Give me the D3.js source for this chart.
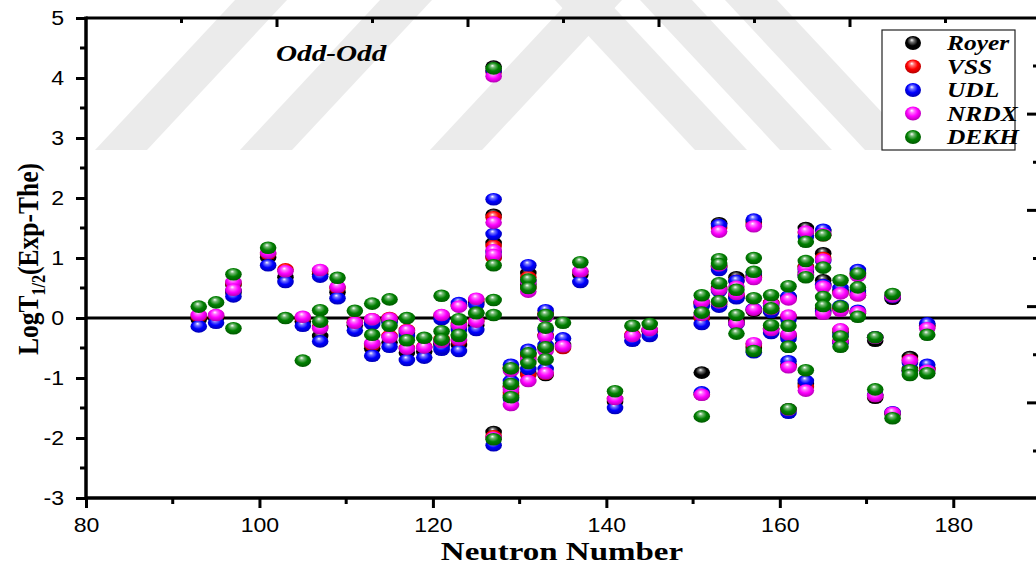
<!DOCTYPE html>
<html>
<head>
<meta charset="utf-8">
<script src="https://cdn.jsdelivr.net/npm/d3@7"></script>
<style>
  html, body { margin: 0; padding: 0; background: #fff; }
  svg { display: block; }
</style>
</head>
<body>
<svg id="chart" width="1036" height="564"></svg>
<script>
// Odd-odd nuclei: log10 half-life deviations (experiment minus theory)
// for five alpha-decay formulas, one entry per nucleus.
const neutron = [93, 95, 97, 97, 101, 103, 105, 107, 107, 109, 111, 113, 113, 115, 115, 117, 117, 119,
  121, 121, 121, 123, 123, 123, 125, 125, 127, 127, 127, 127, 127, 129, 129, 129,
  131, 131, 131, 131, 133, 133, 133, 133, 135, 137, 141, 143, 145,
  151, 151, 151, 153, 153, 153, 153, 155, 155, 155, 157, 157, 157, 157, 159, 159, 159,
  161, 161, 161, 161, 161, 163, 163, 163, 163, 165, 165, 165, 165, 167, 167, 167, 167,
  169, 169, 169, 171, 171, 173, 173, 175, 175, 177, 177];

const royer = [-0.02, 0.00, 0.55, 0.42, 1.01, 0.68, -0.06, 0.73, -0.30, 0.43, -0.12, -0.05, -0.51, -0.05, -0.41, -0.25, -0.58, -0.56,
  0.00, -0.45, -0.42, 0.20, -0.15, -0.45, 0.25, -0.12, 4.19, 1.72, 1.25, 1.02, -1.90, -0.85, -1.15, -1.30,
  0.75, 0.55, -0.60, -0.92, 0.05, -0.30, -0.50, -0.95, -0.45, 0.72, -1.40, -0.30, -0.22,
  0.25, 0.00, -0.91, 1.58, 0.85, 0.50, 0.22, 0.68, 0.35, -0.05, 1.60, 0.70, 0.12, -0.50, 0.25, 0.12, -0.18,
  0.35, 0.00, -0.30, -0.78, -1.52, 1.50, 0.85, 0.75, -1.10, 1.45, 1.08, 0.63, 0.15, 0.45, 0.15, -0.25, -0.40,
  0.75, 0.40, 0.08, -0.38, -1.33, 0.32, -1.60, -0.65, -0.85, -0.12, -0.85];

const vss = [0.03, 0.04, 0.58, 0.45, 1.07, 0.81, 0.00, 0.78, -0.15, 0.50, -0.07, -0.02, -0.45, 0.00, -0.30, -0.20, -0.50, -0.48,
  0.04, -0.38, -0.35, 0.22, -0.10, -0.38, 0.30, -0.05, 4.10, 1.68, 1.20, 1.00, -1.97, -0.82, -1.15, -1.25,
  0.68, 0.50, -0.65, -0.95, 0.08, -0.28, -0.50, -0.93, -0.50, 0.77, -1.35, -0.28, -0.20,
  0.25, 0.00, -1.27, 1.50, 0.85, 0.48, 0.25, 0.62, 0.38, -0.08, 1.55, 0.68, 0.14, -0.45, 0.25, 0.15, -0.18,
  0.33, 0.03, -0.28, -0.80, -1.53, 1.42, 0.85, 0.72, -1.15, 1.38, 1.00, 0.55, 0.12, 0.42, 0.15, -0.20, -0.38,
  0.72, 0.38, 0.10, -0.32, -1.30, 0.36, -1.58, -0.70, -0.88, -0.14, -0.85];

const udl = [-0.14, -0.08, 0.45, 0.36, 0.88, 0.60, -0.13, 0.69, -0.39, 0.33, -0.21, -0.10, -0.63, -0.08, -0.48, -0.30, -0.70, -0.66,
  -0.02, -0.53, -0.50, 0.25, -0.20, -0.55, 0.22, -0.20, 4.12, 1.98, 1.40, 1.10, -2.12, -0.78, -1.05, -1.35,
  0.88, 0.62, -0.53, -0.85, 0.13, -0.20, -0.45, -0.85, -0.34, 0.60, -1.50, -0.38, -0.30,
  0.20, -0.10, -1.24, 1.55, 0.80, 0.45, 0.19, 0.62, 0.33, -0.10, 1.64, 0.75, 0.15, -0.57, 0.20, 0.10, -0.25,
  0.36, -0.03, -0.35, -0.72, -1.58, 1.35, 0.80, 0.70, -1.05, 1.47, 0.95, 0.55, 0.10, 0.50, 0.20, -0.30, -0.42,
  0.80, 0.45, 0.12, -0.32, -1.28, 0.35, -1.57, -0.75, -0.90, -0.09, -0.78];

const nrdx = [0.05, 0.05, 0.60, 0.47, 1.09, 0.78, 0.02, 0.80, -0.17, 0.52, -0.08, -0.02, -0.42, -0.01, -0.32, -0.21, -0.51, -0.49,
  0.05, -0.40, -0.38, 0.19, -0.12, -0.36, 0.32, -0.06, 4.03, 1.59, 1.13, 1.05, -2.00, -0.88, -1.20, -1.45,
  0.60, 0.44, -0.70, -1.05, 0.02, -0.31, -0.55, -0.92, -0.47, 0.78, -1.35, -0.30, -0.20,
  0.27, 0.05, -1.28, 1.44, 0.88, 0.47, 0.26, 0.52, 0.40, -0.09, 1.53, 0.65, 0.14, -0.42, 0.24, 0.15, -0.20,
  0.31, 0.04, -0.27, -0.82, -1.53, 1.44, 0.82, 0.72, -1.21, 1.40, 0.97, 0.52, 0.07, 0.41, 0.12, -0.19, -0.40,
  0.70, 0.38, 0.10, -0.33, -1.30, 0.36, -1.58, -0.71, -0.88, -0.17, -0.88];

const dekh = [0.19, 0.26, 0.73, -0.17, 1.17, 0.00, -0.71, 0.13, -0.06, 0.67, 0.12, 0.24, -0.28, 0.31, -0.13, 0.00, -0.37, -0.33,
  0.37, -0.22, -0.36, -0.02, -0.30, -0.28, 0.09, 0.08, 4.16, 0.88, 0.30, 0.05, -2.02, -0.84, -1.10, -1.32,
  0.64, 0.50, -0.59, -0.75, 0.05, -0.16, -0.49, -0.69, -0.08, 0.93, -1.22, -0.13, -0.10,
  0.38, 0.09, -1.64, 0.98, 0.90, 0.58, 0.28, 0.47, 0.05, -0.26, 1.00, 0.77, 0.33, -0.55, 0.38, 0.16, -0.12,
  0.53, -0.13, -0.48, -0.48, -1.52, 1.27, 0.95, 0.68, -0.87, 1.38, 0.84, 0.35, 0.20, 0.63, 0.19, -0.31, -0.48,
  0.74, 0.51, 0.02, -0.32, -1.19, 0.40, -1.67, -0.87, -0.95, -0.28, -0.92];

const seriesNames = ["Royer", "VSS", "UDL", "NRDX", "DEKH"];
const seriesValues = [royer, vss, udl, nrdx, dekh];
const seriesColors = ["#000000", "#ff0000", "#0000ff", "#ff00ff", "#008000"];

const xTickValues = [80, 100, 120, 140, 160, 180];
const xMinorValues = [90, 110, 130, 150, 170];
const yTickValues = [-3, -2, -1, 0, 1, 2, 3, 4, 5];
const yMinorValues = [-2.5, -1.5, -0.5, 0.5, 1.5, 2.5, 3.5, 4.5];
// Frame ticks carried on the top and right edges of the frame.
const frameTopTicks = [0, 1, 2, 3, 4, 5, 6, 7, 8, 9];
const frameRightTicks = [0, 1, 2, 3, 4, 5, 6, 7, 8];

const svg = d3.select("#chart");
const pLeft = 86, pRight = 1040, pTop = 18, pBottom = 498;
const SX = 1.27;    // horizontal stretch of the serif lettering
const SXN = 1.1;    // horizontal stretch of the tick numbers
const serif = "'Liberation Serif', 'Times New Roman', serif";
const sans = "'Liberation Sans', Arial, sans-serif";

const x = d3.scaleLinear().domain([80, 190]).range([pLeft, pRight]);
const y = d3.scaleLinear().domain([-3, 5]).range([pBottom, pTop]);
const topFrame = d3.scaleLinear().domain([0, 9]).range([181.5, 1041]);
const rightFrame = d3.scaleLinear().domain([0, 8]).range([66, 451]);

// ---- background watermark bands ----
const wm = svg.append("g").attr("fill", "#ebebeb");
const bandTop = 0, bandBot = 150, run = 140, bw = 52;
[[95, 1], [240, 1], [430, 1], [555, -1], [640, -1], [725, -1]].forEach(([b, dir]) => {
  if (dir > 0) {
    wm.append("path").attr("d",
      `M${b},${bandBot} L${b + bw},${bandBot} L${b + bw + run},${bandTop} L${b + run},${bandTop} Z`);
  } else {
    wm.append("path").attr("d",
      `M${b},${bandTop} L${b + bw},${bandTop} L${b + bw + run},${bandBot} L${b + run},${bandBot} Z`);
  }
});

// ---- gradients for the shaded markers ----
const defs = svg.append("defs");
seriesColors.forEach((c, i) => {
  const base = d3.color(c);
  const g = defs.append("radialGradient").attr("id", "ball" + i)
    .attr("cx", "50%").attr("cy", "45%").attr("r", "60%")
    .attr("fx", "42%").attr("fy", "28%");
  g.append("stop").attr("offset", "0%").attr("stop-color", "#ffffff");
  g.append("stop").attr("offset", "22%").attr("stop-color", d3.interpolateRgb("#ffffff", c)(0.55));
  g.append("stop").attr("offset", "55%").attr("stop-color", c);
  g.append("stop").attr("offset", "100%").attr("stop-color", base.darker(1.2).formatHex());
});

// ---- frame ----
svg.append("line").attr("x1", pLeft).attr("x2", pRight + 2).attr("y1", pTop).attr("y2", pTop)
  .attr("stroke", "#000").attr("stroke-width", 3);

// top frame ticks (pointing inward)
svg.append("g").selectAll("line").data(frameTopTicks).join("line")
  .attr("x1", d => topFrame(d)).attr("x2", d => topFrame(d))
  .attr("y1", pTop).attr("y2", d => pTop + (d % 2 ? 9 : 5))
  .attr("stroke", "#000").attr("stroke-width", 3);

// right frame ticks (pointing inward from the frame edge)
svg.append("g").selectAll("line").data(frameRightTicks).join("line")
  .attr("x1", pRight).attr("x2", d => pRight - (d % 2 ? 13 : 7))
  .attr("y1", d => rightFrame(d)).attr("y2", d => rightFrame(d))
  .attr("stroke", "#000").attr("stroke-width", 3);

// zero reference line
svg.append("line").attr("x1", pLeft).attr("x2", pRight).attr("y1", y(0)).attr("y2", y(0))
  .attr("stroke", "#000").attr("stroke-width", 3);

// ---- axes ----
const xAxis = svg.append("g").attr("transform", `translate(0,${pBottom})`)
  .call(d3.axisBottom(x).tickValues(xTickValues).tickSize(10).tickPadding(9).tickFormat(d3.format("d")));
xAxis.append("g").selectAll("line").data(xMinorValues).join("line")
  .attr("x1", d => x(d)).attr("x2", d => x(d)).attr("y1", 0).attr("y2", 6)
  .attr("stroke", "#000").attr("stroke-width", 3);

const yAxis = svg.append("g").attr("transform", `translate(${pLeft},0)`)
  .call(d3.axisLeft(y).tickValues(yTickValues).tickSize(10).tickPadding(13).tickFormat(d3.format("d")));
yAxis.append("g").selectAll("line").data(yMinorValues).join("line")
  .attr("y1", d => y(d)).attr("y2", d => y(d)).attr("x1", 0).attr("x2", -6)
  .attr("stroke", "#000").attr("stroke-width", 3);

[xAxis, yAxis].forEach(a => {
  a.select(".domain").attr("stroke", "#000").attr("stroke-width", 3.5);
  a.selectAll(".tick line").attr("stroke", "#000").attr("stroke-width", 3);
  a.selectAll(".tick text").attr("fill", "#000")
    .style("font-family", sans).style("font-size", "21px");
});
xAxis.select(".domain").attr("d", `M${pLeft},0H${pRight + 2}`);
yAxis.select(".domain").attr("d", `M0,${pBottom + 1.5}V${pTop - 1.5}`);
xAxis.selectAll(".tick text").attr("transform", `scale(${SXN},1)`);
yAxis.selectAll(".tick text")
  .text(d => d < 0 ? "-" + Math.abs(d) : d)
  .attr("x", 0).attr("transform", `translate(-22,0) scale(${SXN},1)`);

// ---- markers ----
const rx = 8.3, ry = 6.3;
const plot = svg.append("g");
seriesValues.forEach((vals, i) => {
  plot.append("g").selectAll("ellipse").data(neutron.map((n, k) => ({ n, v: vals[k] }))).join("ellipse")
    .attr("cx", d => x(d.n)).attr("cy", d => y(d.v))
    .attr("rx", rx).attr("ry", ry)
    .attr("fill", `url(#ball${i})`);
});

// ---- labels ----
svg.append("text").attr("transform", `translate(276,61) scale(${SX},1)`)
  .style("font-family", serif)
  .style("font-weight", "bold").style("font-style", "italic").style("font-size", "23px")
  .text("Odd-Odd");

svg.append("text").attr("transform", `translate(562,560) scale(${SX},1)`).attr("text-anchor", "middle")
  .style("font-family", serif)
  .style("font-weight", "bold").style("font-size", "26px")
  .text("Neutron Number");

const yTitle = svg.append("text")
  .attr("transform", `translate(38,259) rotate(-90)`).attr("text-anchor", "middle")
  .attr("textLength", 192).attr("lengthAdjust", "spacingAndGlyphs")
  .style("font-family", serif)
  .style("font-weight", "bold").style("font-size", "30px");
yTitle.append("tspan").text("LogT");
yTitle.append("tspan").attr("dy", 7).style("font-size", "19px").text("1/2");
yTitle.append("tspan").attr("dy", -7).text("(Exp-The)");

// ---- legend ----
const lg = svg.append("g");
lg.append("rect").attr("x", 882).attr("y", 30).attr("width", 133).attr("height", 120)
  .attr("fill", "#fff").attr("stroke", "#222").attr("stroke-width", 1.2);
const ly = d3.scalePoint().domain(seriesNames).range([43, 137]);
seriesNames.forEach((name, i) => {
  lg.append("ellipse").attr("cx", 913).attr("cy", ly(name)).attr("rx", 8).attr("ry", 7)
    .attr("fill", `url(#ball${i})`);
  lg.append("text").attr("transform", `translate(947,${ly(name) + 7}) scale(${SX},1)`)
    .style("font-family", serif)
    .style("font-weight", "bold").style("font-style", "italic").style("font-size", "20px")
    .text(name);
});
</script>
</body>
</html>
